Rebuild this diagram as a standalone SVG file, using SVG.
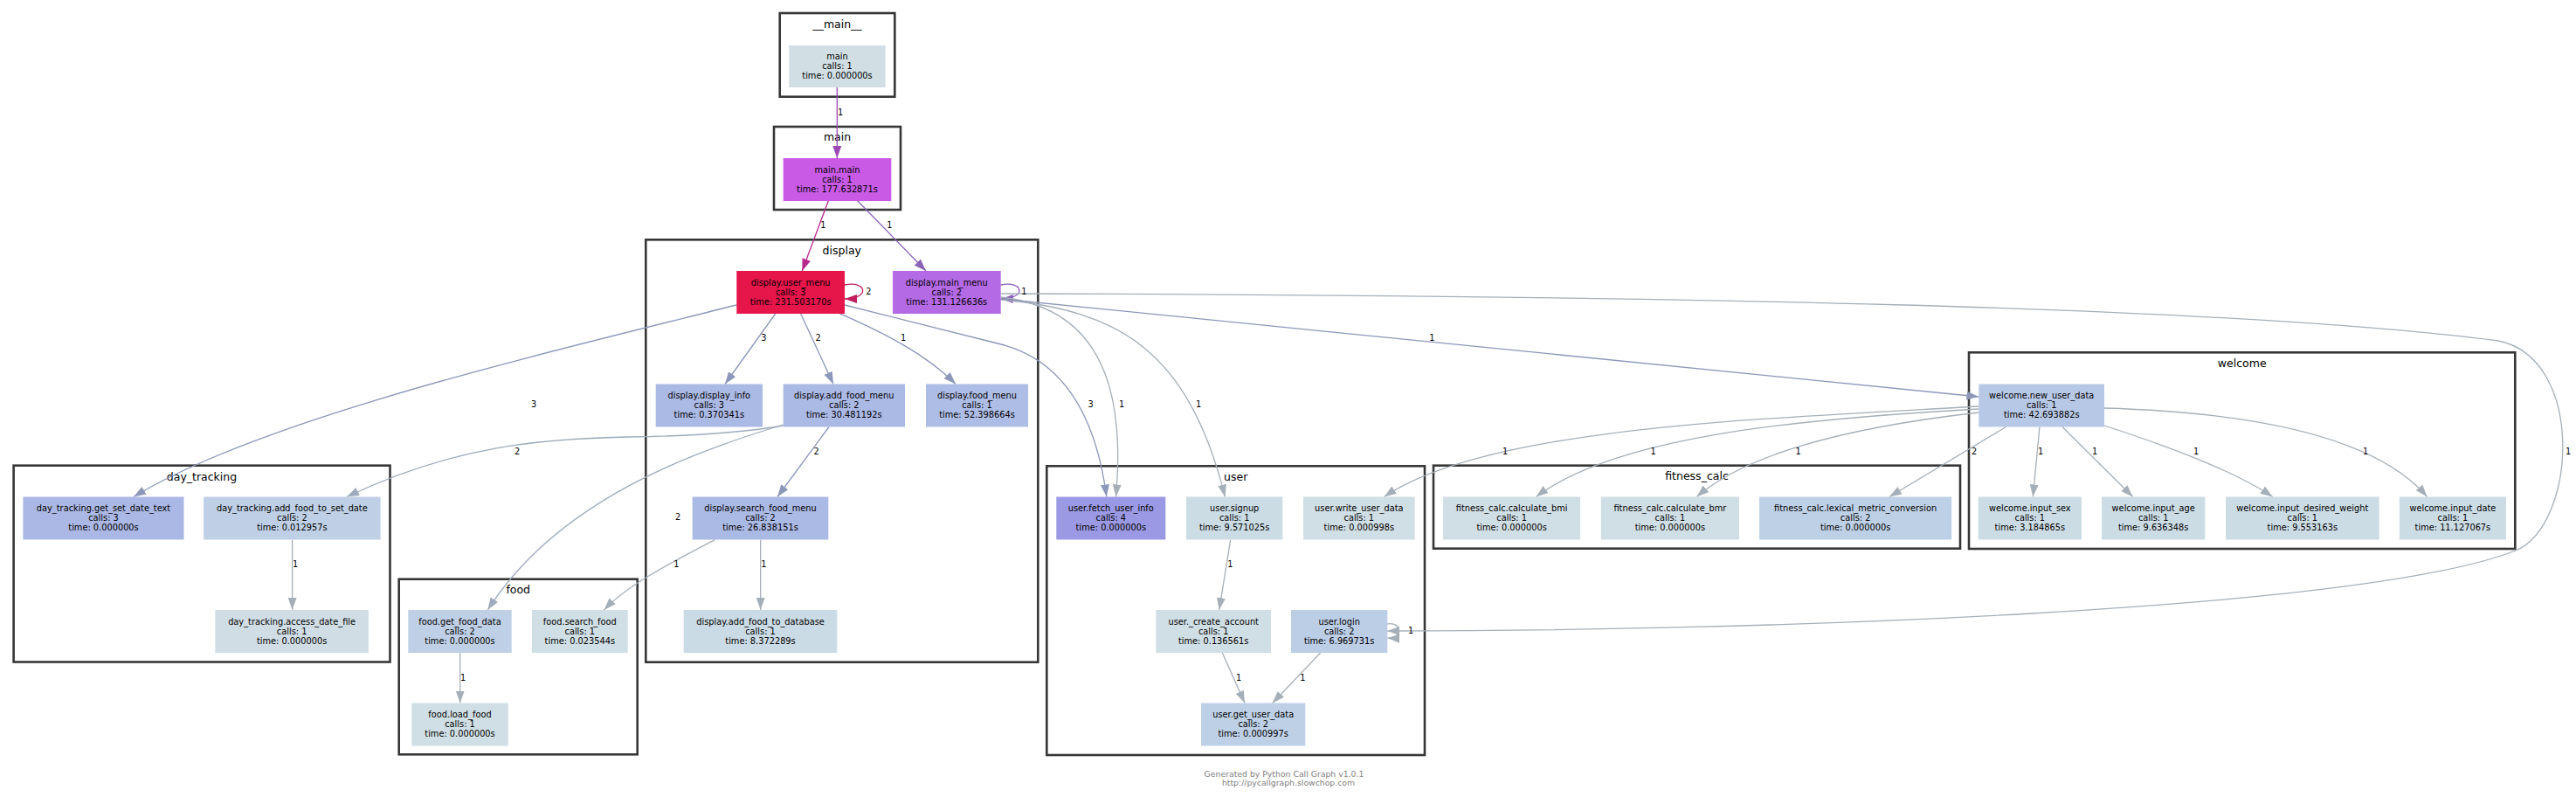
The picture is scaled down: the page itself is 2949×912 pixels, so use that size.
<svg xmlns="http://www.w3.org/2000/svg" width="2949" height="912" viewBox="0 0 2949 912">
<style>
.cl{fill:none;stroke:#363636;stroke-width:2.6}
.clt{font-family:"DejaVu Sans",Verdana,sans-serif;font-size:12.5px;fill:#000;text-anchor:middle}
.nt{font-family:"DejaVu Sans",Verdana,sans-serif;font-size:9.8px;fill:#000;text-anchor:middle}
.el{font-family:"DejaVu Sans",Verdana,sans-serif;font-size:9.8px;fill:#000;text-anchor:middle}
.e{fill:none;stroke-width:1.3}
.c1{stroke:#9b48b5}.c2{stroke:#b8298c}.c3{stroke:#8a62b5}.c4{stroke:#c01e5e}.c5{stroke:#8a5cbc}.c6{stroke:#8c97b9}.c7{stroke:#a5afb7}.c8{stroke:#9dabbb}
.ft{font-family:"DejaVu Sans",Verdana,sans-serif;font-size:9.3px;fill:#808080;text-anchor:middle}
</style>
<defs>
<marker id="m1" markerUnits="userSpaceOnUse" markerWidth="14" markerHeight="10" refX="14" refY="5" orient="auto"><path d="M0,0L14,5L0,10z" fill="#9b48b5"/></marker>
<marker id="m2" markerUnits="userSpaceOnUse" markerWidth="14" markerHeight="10" refX="14" refY="5" orient="auto"><path d="M0,0L14,5L0,10z" fill="#b8298c"/></marker>
<marker id="m3" markerUnits="userSpaceOnUse" markerWidth="14" markerHeight="10" refX="14" refY="5" orient="auto"><path d="M0,0L14,5L0,10z" fill="#8a62b5"/></marker>
<marker id="m4" markerUnits="userSpaceOnUse" markerWidth="14" markerHeight="10" refX="14" refY="5" orient="auto"><path d="M0,0L14,5L0,10z" fill="#c01e5e"/></marker>
<marker id="m5" markerUnits="userSpaceOnUse" markerWidth="14" markerHeight="10" refX="14" refY="5" orient="auto"><path d="M0,0L14,5L0,10z" fill="#8a5cbc"/></marker>
<marker id="m6" markerUnits="userSpaceOnUse" markerWidth="14" markerHeight="10" refX="14" refY="5" orient="auto"><path d="M0,0L14,5L0,10z" fill="#8c97b9"/></marker>
<marker id="m7" markerUnits="userSpaceOnUse" markerWidth="14" markerHeight="10" refX="14" refY="5" orient="auto"><path d="M0,0L14,5L0,10z" fill="#a5afb7"/></marker>
<marker id="m8" markerUnits="userSpaceOnUse" markerWidth="14" markerHeight="10" refX="14" refY="5" orient="auto"><path d="M0,0L14,5L0,10z" fill="#9dabbb"/></marker>
</defs>
<rect width="2949" height="912" fill="#fff"/>

<g id="clusters">
<g id="cluster-__main__"><rect class="cl" x="892.7" y="15" width="131.6" height="95.7"/><text class="clt" x="958.5" y="32">__main__</text></g>
<g id="cluster-main"><rect class="cl" x="886" y="145" width="145" height="95"/><text class="clt" x="958.5" y="161">main</text></g>
<g id="cluster-display"><rect class="cl" x="739.3" y="274.3" width="449" height="483.4"/><text class="clt" x="963.8" y="291">display</text></g>
<g id="cluster-day_tracking"><rect class="cl" x="15.6" y="532.7" width="430.9" height="224.8"/><text class="clt" x="231" y="549.5">day_tracking</text></g>
<g id="cluster-food"><rect class="cl" x="456.7" y="662.7" width="273" height="200.6"/><text class="clt" x="593.2" y="678.5">food</text></g>
<g id="cluster-user"><rect class="cl" x="1198.3" y="533.3" width="432.7" height="330.7"/><text class="clt" x="1414.7" y="549.5">user</text></g>
<g id="cluster-fitness_calc"><rect class="cl" x="1641" y="532.7" width="603" height="95"/><text class="clt" x="1942.5" y="548.5">fitness_calc</text></g>
<g id="cluster-welcome"><rect class="cl" x="2254" y="403.3" width="625.3" height="224.7"/><text class="clt" x="2566.7" y="420">welcome</text></g>
</g>

<g id="edges">
<path class="e c1" marker-end="url(#m1)" d="M958.3,100L958.3,181"/>
<path class="e c2" marker-end="url(#m2)" d="M948.3,229.7L918.3,310"/>
<path class="e c3" marker-end="url(#m3)" d="M981.7,229.7L1060,310"/>
<path class="e c4" marker-end="url(#m4)" d="M967,326C993,321 996,342 967,342"/>
<path class="e c5" marker-end="url(#m5)" d="M1145.7,326C1173,321 1175,342 1145.7,342"/>
<path class="e c6" marker-end="url(#m6)" d="M887.7,359L830,439.5"/>
<path class="e c6" marker-end="url(#m6)" d="M916.7,359L954,439.5"/>
<path class="e c6" marker-end="url(#m6)" d="M961,358.7C1010,380 1060,405 1094,439.5"/>
<path class="e c6" marker-end="url(#m6)" d="M843.3,349C600,410 300,480 153,568.5"/>
<path class="e c6" marker-end="url(#m6)" d="M967,349L1150,395C1220,415 1255,480 1266.8,568.5"/>
<path class="e c7" marker-end="url(#m7)" d="M1145.7,340C1250,352 1290,430 1277.5,568.5"/>
<path class="e c7" marker-end="url(#m7)" d="M1145.7,343C1280,355 1360,400 1402.5,568.5"/>
<path class="e c6" marker-end="url(#m6)" d="M1145.7,342L2265.3,454"/>
<path class="e c7" marker-end="url(#m7)" d="M1145.7,336C1900,338 2550,350 2860,390C2960,410 2950,600 2880,630C2700,700 2000,722 1588.3,722"/>
<path class="e c8" marker-end="url(#m8)" d="M896.7,487C850,495 790,499 720,500C620,502 520,510 397,568.5"/>
<path class="e c6" marker-end="url(#m6)" d="M949,488.5L890,568.5"/>
<path class="e c8" marker-end="url(#m8)" d="M896.7,486C800,515 640,570 558.3,698"/>
<path class="e c7" marker-end="url(#m7)" d="M818.3,617.7C770,643 720,668 691.5,698"/>
<path class="e c7" marker-end="url(#m7)" d="M870.7,617.7L870.7,698"/>
<path class="e c7" marker-end="url(#m7)" d="M334.6,617.7L334.6,698"/>
<path class="e c7" marker-end="url(#m7)" d="M526.7,746.7L526.7,804.5"/>
<path class="e c7" marker-end="url(#m7)" d="M1408.7,617.7L1395.7,698"/>
<path class="e c7" marker-end="url(#m7)" d="M1399.3,747L1425,804.5"/>
<path class="e c7" marker-end="url(#m7)" d="M1511.7,747L1456.7,804.5"/>
<path class="e c7" marker-end="url(#m7)" d="M1588.3,714C1605,711 1607,731 1588.3,730"/>
<path class="e c7" marker-end="url(#m7)" d="M2265.3,465C2000,480 1700,490 1584.6,568.5"/>
<path class="e c7" marker-end="url(#m7)" d="M2265.3,468C2050,480 1850,500 1758.5,568.5"/>
<path class="e c7" marker-end="url(#m7)" d="M2265.3,472C2150,485 2010,510 1942.4,568.5"/>
<path class="e c7" marker-end="url(#m7)" d="M2296.8,488.3L2163,568.5"/>
<path class="e c7" marker-end="url(#m7)" d="M2335,488.3L2327.3,568.5"/>
<path class="e c7" marker-end="url(#m7)" d="M2360.7,488.3L2441.7,568.5"/>
<path class="e c7" marker-end="url(#m7)" d="M2409,487C2480,510 2560,540 2601.7,568.5"/>
<path class="e c7" marker-end="url(#m7)" d="M2409,467C2580,472 2720,500 2778.6,568.5"/>
<g id="edge-labels">
<text class="el" x="962" y="131.5">1</text>
<text class="el" x="942.3" y="261">1</text>
<text class="el" x="1018.3" y="261">1</text>
<text class="el" x="994.3" y="337">2</text>
<text class="el" x="1172.3" y="337">1</text>
<text class="el" x="874.3" y="390">3</text>
<text class="el" x="936.7" y="390">2</text>
<text class="el" x="1034" y="390">1</text>
<text class="el" x="611" y="466">3</text>
<text class="el" x="1248.6" y="466">3</text>
<text class="el" x="1284" y="466">1</text>
<text class="el" x="1372" y="466">1</text>
<text class="el" x="1639.3" y="390">1</text>
<text class="el" x="592" y="520">2</text>
<text class="el" x="934.7" y="519.5">2</text>
<text class="el" x="776" y="595">2</text>
<text class="el" x="774.3" y="649">1</text>
<text class="el" x="874.3" y="649">1</text>
<text class="el" x="338" y="649">1</text>
<text class="el" x="530" y="778.5">1</text>
<text class="el" x="1408.3" y="649">1</text>
<text class="el" x="1418" y="778.5">1</text>
<text class="el" x="1491.3" y="778.5">1</text>
<text class="el" x="1615" y="725">1</text>
<text class="el" x="2940" y="519.5">1</text>
<text class="el" x="1723" y="519.5">1</text>
<text class="el" x="1892.5" y="519.5">1</text>
<text class="el" x="2058.5" y="519.5">1</text>
<text class="el" x="2260" y="519.5">2</text>
<text class="el" x="2336" y="519.5">1</text>
<text class="el" x="2398" y="519.5">1</text>
<text class="el" x="2514" y="519.5">1</text>
<text class="el" x="2708" y="519.5">1</text>
</g>
</g>

<g id="nodes">
<g id="node-main"><rect x="903.3" y="52" width="110.4" height="48" fill="#d1dfe5"/><text class="nt" y="68.3"><tspan x="958.5">main</tspan><tspan x="958.5" dy="11">calls: 1</tspan><tspan x="958.5" dy="11">time: 0.000000s</tspan></text></g>
<g id="node-main.main"><rect x="896.7" y="181" width="123.6" height="49" fill="#c85ae6"/><text class="nt" y="197.5"><tspan x="958.5">main.main</tspan><tspan x="958.5" dy="11">calls: 1</tspan><tspan x="958.5" dy="11">time: 177.632871s</tspan></text></g>
<g id="node-display.user_menu"><rect x="843.3" y="310" width="123.7" height="49" fill="#e6154a"/><text class="nt" y="326.5"><tspan x="905.2">display.user_menu</tspan><tspan x="905.2" dy="11">calls: 3</tspan><tspan x="905.2" dy="11">time: 231.503170s</tspan></text></g>
<g id="node-display.main_menu"><rect x="1022" y="310" width="123.7" height="49" fill="#b469e5"/><text class="nt" y="326.5"><tspan x="1083.8">display.main_menu</tspan><tspan x="1083.8" dy="11">calls: 2</tspan><tspan x="1083.8" dy="11">time: 131.126636s</tspan></text></g>
<g id="node-display.display_info"><rect x="750.7" y="439.5" width="122.3" height="49" fill="#abb9e5"/><text class="nt" y="456"><tspan x="811.8">display.display_info</tspan><tspan x="811.8" dy="11">calls: 3</tspan><tspan x="811.8" dy="11">time: 0.370341s</tspan></text></g>
<g id="node-display.add_food_menu"><rect x="896.7" y="439.5" width="139.3" height="49" fill="#abb9e5"/><text class="nt" y="456"><tspan x="966.3">display.add_food_menu</tspan><tspan x="966.3" dy="11">calls: 2</tspan><tspan x="966.3" dy="11">time: 30.481192s</tspan></text></g>
<g id="node-display.food_menu"><rect x="1060" y="439.5" width="117" height="49" fill="#aebde6"/><text class="nt" y="456"><tspan x="1118.5">display.food_menu</tspan><tspan x="1118.5" dy="11">calls: 1</tspan><tspan x="1118.5" dy="11">time: 52.398664s</tspan></text></g>
<g id="node-display.search_food_menu"><rect x="792.7" y="568.5" width="155.6" height="49" fill="#abb9e5"/><text class="nt" y="585"><tspan x="870.5">display.search_food_menu</tspan><tspan x="870.5" dy="11">calls: 2</tspan><tspan x="870.5" dy="11">time: 26.838151s</tspan></text></g>
<g id="node-display.add_food_to_database"><rect x="782.7" y="698" width="175.6" height="49" fill="#cbdbe5"/><text class="nt" y="714.5"><tspan x="870.5">display.add_food_to_database</tspan><tspan x="870.5" dy="11">calls: 1</tspan><tspan x="870.5" dy="11">time: 8.372289s</tspan></text></g>
<g id="node-day_tracking.get_set_date_text"><rect x="26.4" y="568.5" width="184.1" height="49" fill="#abb8e5"/><text class="nt" y="585"><tspan x="118.5">day_tracking.get_set_date_text</tspan><tspan x="118.5" dy="11">calls: 3</tspan><tspan x="118.5" dy="11">time: 0.000000s</tspan></text></g>
<g id="node-day_tracking.add_food_to_set_date"><rect x="233.1" y="568.5" width="202.5" height="49" fill="#bfd0e6"/><text class="nt" y="585"><tspan x="334.4">day_tracking.add_food_to_set_date</tspan><tspan x="334.4" dy="11">calls: 2</tspan><tspan x="334.4" dy="11">time: 0.012957s</tspan></text></g>
<g id="node-day_tracking.access_date_file"><rect x="246.3" y="698" width="175.6" height="49" fill="#d0dde5"/><text class="nt" y="714.5"><tspan x="334.1">day_tracking.access_date_file</tspan><tspan x="334.1" dy="11">calls: 1</tspan><tspan x="334.1" dy="11">time: 0.000000s</tspan></text></g>
<g id="node-food.get_food_data"><rect x="467.3" y="698" width="118.4" height="49" fill="#bfd0e6"/><text class="nt" y="714.5"><tspan x="526.5">food.get_food_data</tspan><tspan x="526.5" dy="11">calls: 2</tspan><tspan x="526.5" dy="11">time: 0.000000s</tspan></text></g>
<g id="node-food.search_food"><rect x="609" y="698" width="109.7" height="49" fill="#d0dfe5"/><text class="nt" y="714.5"><tspan x="663.8">food.search_food</tspan><tspan x="663.8" dy="11">calls: 1</tspan><tspan x="663.8" dy="11">time: 0.023544s</tspan></text></g>
<g id="node-food.load_food"><rect x="471.3" y="804.5" width="110.4" height="49" fill="#d0dfe5"/><text class="nt" y="821"><tspan x="526.5">food.load_food</tspan><tspan x="526.5" dy="11">calls: 1</tspan><tspan x="526.5" dy="11">time: 0.000000s</tspan></text></g>
<g id="node-user.fetch_user_info"><rect x="1209.3" y="568.5" width="125" height="49" fill="#9b99e3"/><text class="nt" y="585"><tspan x="1271.8">user.fetch_user_info</tspan><tspan x="1271.8" dy="11">calls: 4</tspan><tspan x="1271.8" dy="11">time: 0.000000s</tspan></text></g>
<g id="node-user.signup"><rect x="1358" y="568.5" width="110.3" height="49" fill="#cbdce5"/><text class="nt" y="585"><tspan x="1413.2">user.signup</tspan><tspan x="1413.2" dy="11">calls: 1</tspan><tspan x="1413.2" dy="11">time: 9.571025s</tspan></text></g>
<g id="node-user.write_user_data"><rect x="1492" y="568.5" width="127.7" height="49" fill="#d0dee5"/><text class="nt" y="585"><tspan x="1555.8">user.write_user_data</tspan><tspan x="1555.8" dy="11">calls: 1</tspan><tspan x="1555.8" dy="11">time: 0.000998s</tspan></text></g>
<g id="node-user._create_account"><rect x="1323.3" y="698" width="131.7" height="49" fill="#d0dee5"/><text class="nt" y="714.5"><tspan x="1389.2">user._create_account</tspan><tspan x="1389.2" dy="11">calls: 1</tspan><tspan x="1389.2" dy="11">time: 0.136561s</tspan></text></g>
<g id="node-user.login"><rect x="1478" y="698" width="110.3" height="49" fill="#bccde6"/><text class="nt" y="714.5"><tspan x="1533.2">user.login</tspan><tspan x="1533.2" dy="11">calls: 2</tspan><tspan x="1533.2" dy="11">time: 6.969731s</tspan></text></g>
<g id="node-user.get_user_data"><rect x="1375" y="804.5" width="119.3" height="49" fill="#bed0e6"/><text class="nt" y="821"><tspan x="1434.7">user.get_user_data</tspan><tspan x="1434.7" dy="11">calls: 2</tspan><tspan x="1434.7" dy="11">time: 0.000997s</tspan></text></g>
<g id="node-fitness_calc.calculate_bmi"><rect x="1652.1" y="568.5" width="157" height="49" fill="#d0dee5"/><text class="nt" y="585"><tspan x="1730.6">fitness_calc.calculate_bmi</tspan><tspan x="1730.6" dy="11">calls: 1</tspan><tspan x="1730.6" dy="11">time: 0.000000s</tspan></text></g>
<g id="node-fitness_calc.calculate_bmr"><rect x="1832.8" y="568.5" width="158.2" height="49" fill="#d0dee5"/><text class="nt" y="585"><tspan x="1911.9">fitness_calc.calculate_bmr</tspan><tspan x="1911.9" dy="11">calls: 1</tspan><tspan x="1911.9" dy="11">time: 0.000000s</tspan></text></g>
<g id="node-fitness_calc.lexical_metric_conversion"><rect x="2014" y="568.5" width="220.2" height="49" fill="#bed0e6"/><text class="nt" y="585"><tspan x="2124.1">fitness_calc.lexical_metric_conversion</tspan><tspan x="2124.1" dy="11">calls: 2</tspan><tspan x="2124.1" dy="11">time: 0.000000s</tspan></text></g>
<g id="node-welcome.new_user_data"><rect x="2265.3" y="439.5" width="143.7" height="49" fill="#b7c8e6"/><text class="nt" y="456"><tspan x="2337.2">welcome.new_user_data</tspan><tspan x="2337.2" dy="11">calls: 1</tspan><tspan x="2337.2" dy="11">time: 42.693882s</tspan></text></g>
<g id="node-welcome.input_sex"><rect x="2264.7" y="568.5" width="118.3" height="49" fill="#cbdce5"/><text class="nt" y="585"><tspan x="2323.8">welcome.input_sex</tspan><tspan x="2323.8" dy="11">calls: 1</tspan><tspan x="2323.8" dy="11">time: 3.184865s</tspan></text></g>
<g id="node-welcome.input_age"><rect x="2406" y="568.5" width="118.3" height="49" fill="#cbdce5"/><text class="nt" y="585"><tspan x="2465.2">welcome.input_age</tspan><tspan x="2465.2" dy="11">calls: 1</tspan><tspan x="2465.2" dy="11">time: 9.636348s</tspan></text></g>
<g id="node-welcome.input_desired_weight"><rect x="2548" y="568.5" width="175.7" height="49" fill="#cbdce5"/><text class="nt" y="585"><tspan x="2635.8">welcome.input_desired_weight</tspan><tspan x="2635.8" dy="11">calls: 1</tspan><tspan x="2635.8" dy="11">time: 9.553163s</tspan></text></g>
<g id="node-welcome.input_date"><rect x="2746.8" y="568.5" width="122.2" height="49" fill="#cbdce5"/><text class="nt" y="585"><tspan x="2807.9">welcome.input_date</tspan><tspan x="2807.9" dy="11">calls: 1</tspan><tspan x="2807.9" dy="11">time: 11.127067s</tspan></text></g>
</g>

<g id="footer">
<text class="ft" x="1470" y="888.5">Generated by Python Call Graph v1.0.1</text>
<text class="ft" x="1475" y="898.5">http://pycallgraph.slowchop.com</text>
</g>
</svg>
